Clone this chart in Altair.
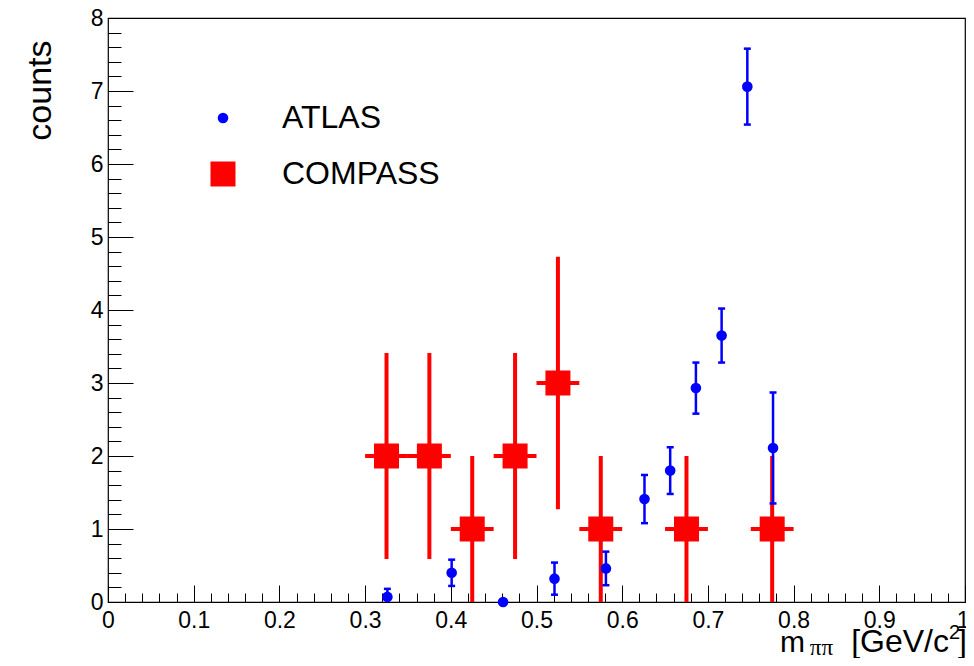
import altair as alt
import pandas as pd

# ---------------- data ----------------
series_names = ["ATLAS", "COMPASS"]
series_colors = ["#0000ff", "#ff0000"]

atlas_x = [0.326, 0.401, 0.461, 0.521, 0.581, 0.626, 0.656, 0.686, 0.716, 0.746, 0.776]
atlas_y = [0.07, 0.40, 0.00, 0.32, 0.46, 1.41, 1.80, 2.93, 3.65, 7.06, 2.11]
atlas_err = [0.11, 0.18, 0.00, 0.22, 0.23, 0.33, 0.32, 0.35, 0.37, 0.52, 0.76]

compass_x = [0.325, 0.375, 0.425, 0.475, 0.525, 0.575, 0.675, 0.775]
compass_y = [2, 2, 1, 2, 3, 1, 1, 1]
compass_err = [1.41, 1.41, 1.0, 1.41, 1.73, 1.0, 1.0, 1.0]
compass_xerr = [0.025, 0.025, 0.025, 0.025, 0.025, 0.025, 0.025, 0.025]

x_major = [0, 0.1, 0.2, 0.3, 0.4, 0.5, 0.6, 0.7, 0.8, 0.9, 1.0]
x_labels_inner = [0, 0.1, 0.2, 0.3, 0.4, 0.5, 0.6, 0.7, 0.8, 0.9]
x_labels_end = [1.0]
x_minor = [round(i * 0.02, 2) for i in range(51)]
y_major = [0, 1, 2, 3, 4, 5, 6, 7, 8]
y_minor = [round(i * 0.2, 1) for i in range(41)]

# ---------------- tables ----------------
atlas = pd.DataFrame({
    "x": atlas_x, "y": atlas_y,
    "lo": [v - e for v, e in zip(atlas_y, atlas_err)],
    "hi": [v + e for v, e in zip(atlas_y, atlas_err)],
    "series": "ATLAS",
})
atlas_bars = atlas[[e > 0 for e in atlas_err]]
caps = pd.concat([
    pd.DataFrame({"x": atlas_bars["x"], "c": atlas_bars["lo"]}),
    pd.DataFrame({"x": atlas_bars["x"], "c": atlas_bars["hi"]}),
])
compass = pd.DataFrame({
    "x": compass_x, "y": compass_y,
    "lo": [v - e for v, e in zip(compass_y, compass_err)],
    "hi": [v + e for v, e in zip(compass_y, compass_err)],
    "xl": [v - e for v, e in zip(compass_x, compass_xerr)],
    "xr": [v + e for v, e in zip(compass_x, compass_xerr)],
    "series": "COMPASS",
})
markers = pd.concat([atlas[["x", "y", "series"]], compass[["x", "y", "series"]]])

W, H = 857, 584
FONT = "Liberation Sans"
xs = alt.Scale(domain=[0, 1], nice=False, zero=False)
ys = alt.Scale(domain=[0, 8], nice=False, zero=False)

# ---------------- layers ----------------
# COMPASS vertical error bars (carry label axes)
l_cv = alt.Chart(compass).mark_rule(color="#ff0000", strokeWidth=4, clip=True).encode(
    x=alt.X("x:Q", scale=xs, axis=alt.Axis(
        orient="bottom", values=x_labels_inner, format=".1~f", ticks=False, tickSize=0,
        domain=False, grid=False, labelFont=FONT, labelFontSize=23, labelColor="black",
        labelPadding=7, labelFlush=False, labelOverlap=False, title=None)),
    y=alt.Y("lo:Q", scale=ys, axis=alt.Axis(
        orient="left", values=y_major, ticks=False, tickSize=0, domain=False, grid=False,
        labelFont=FONT, labelFontSize=23, labelColor="black", labelPadding=5,
        labelFlush=False, labelOverlap=False,
        title="counts", titleFont=FONT, titleFontSize=34, titleFontWeight="normal",
        titleColor="black", titleAngle=270, titleAlign="right", titleBaseline="middle",
        titleX=-68, titleY=22)),
    y2="hi:Q",
)

# COMPASS horizontal bars (carry major inward ticks)
l_ch = alt.Chart(compass).mark_rule(color="#ff0000", strokeWidth=4, clip=True).encode(
    x=alt.X("xl:Q", scale=xs, axis=alt.Axis(
        orient="top", offset=-H, values=x_major, labels=False, domain=False, grid=False,
        ticks=True, tickSize=17, tickWidth=1, tickColor="black", title=None)),
    x2="xr:Q",
    y=alt.Y("y:Q", scale=ys, axis=alt.Axis(
        orient="right", offset=-W, values=y_major, labels=False, domain=False, grid=False,
        ticks=True, tickSize=25, tickWidth=1, tickColor="black", title=None)),
)

# ATLAS error bars (carry minor inward ticks)
l_av = alt.Chart(atlas_bars).mark_rule(color="#0000ff", strokeWidth=2.5, clip=True).encode(
    x=alt.X("x:Q", scale=xs, axis=alt.Axis(
        orient="top", offset=-H, values=x_minor, labels=False, domain=False, grid=False,
        ticks=True, tickSize=9, tickWidth=1, tickColor="black", title=None)),
    y=alt.Y("lo:Q", scale=ys, axis=alt.Axis(
        orient="right", offset=-W, values=y_minor, labels=False, domain=False, grid=False,
        ticks=True, tickSize=13, tickWidth=1, tickColor="black", title=None)),
    y2="hi:Q",
)

# ATLAS caps (carry the flush label "1" at the end of the x axis)
l_caps = alt.Chart(caps).mark_tick(color="#0000ff", orient="horizontal", size=7,
                                   thickness=2.5, clip=True, opacity=1).encode(
    x=alt.X("x:Q", scale=xs, axis=alt.Axis(
        orient="bottom", values=x_labels_end, format=".1~f", ticks=False, tickSize=0,
        domain=False, grid=False, labelFont=FONT, labelFontSize=23, labelColor="black",
        labelPadding=7, labelFlush=True, labelFlushOffset=4, labelOverlap=False, title=None)),
    y=alt.Y("c:Q", scale=ys, axis=None),
)

leg = alt.Legend(orient="none", legendX=99, legendY=84, title=None, padding=0,
                 labelFont=FONT, labelFontSize=32, labelColor="black", labelOffset=43,
                 rowPadding=24, symbolStrokeWidth=0, symbolOpacity=1)

# markers + legend
l_pts = alt.Chart(markers).mark_point(filled=True, opacity=1, strokeWidth=0).encode(
    x=alt.X("x:Q", scale=xs, axis=None),
    y=alt.Y("y:Q", scale=ys, axis=None),
    color=alt.Color("series:N", scale=alt.Scale(domain=series_names, range=series_colors), legend=leg),
    shape=alt.Shape("series:N", scale=alt.Scale(domain=series_names, range=["circle", "square"]), legend=leg),
    size=alt.Size("series:N", scale=alt.Scale(domain=series_names, range=[113, 625]), legend=leg),
)

# x-axis title pieces: m_{ππ} [GeV/c^2]
one = pd.DataFrame({"k": [0]})
def piece(txt, xpos, ypos, fsize, font=FONT):
    return alt.Chart(one).mark_text(align="right", baseline="alphabetic", font=font,
                                    fontSize=fsize, color="black").encode(
        x=alt.value(xpos), y=alt.value(ypos), text=alt.value(txt))

t_m = piece("m", 697, 634, 30)
t_pp = piece("ππ", 725, 637, 23, "Liberation Serif")
t_gev = piece("[GeV/c", 841, 634, 32)
t_2 = piece("2", 852, 621, 20)
t_br = piece("]", 859, 634, 32)

chart = alt.layer(l_cv, l_ch, l_av, l_caps, l_pts, t_m, t_pp, t_gev, t_2, t_br).resolve_axis(
    x="independent", y="independent"
).properties(
    width=W, height=H,
    autosize=alt.AutoSizeParams(type="none"),
    padding={"left": 100, "top": 10, "right": 1, "bottom": 56},
    background="white",
).configure_view(stroke="black", strokeWidth=1.2)

chart.save("out.html", embed_options={"renderer": "svg", "actions": False})
